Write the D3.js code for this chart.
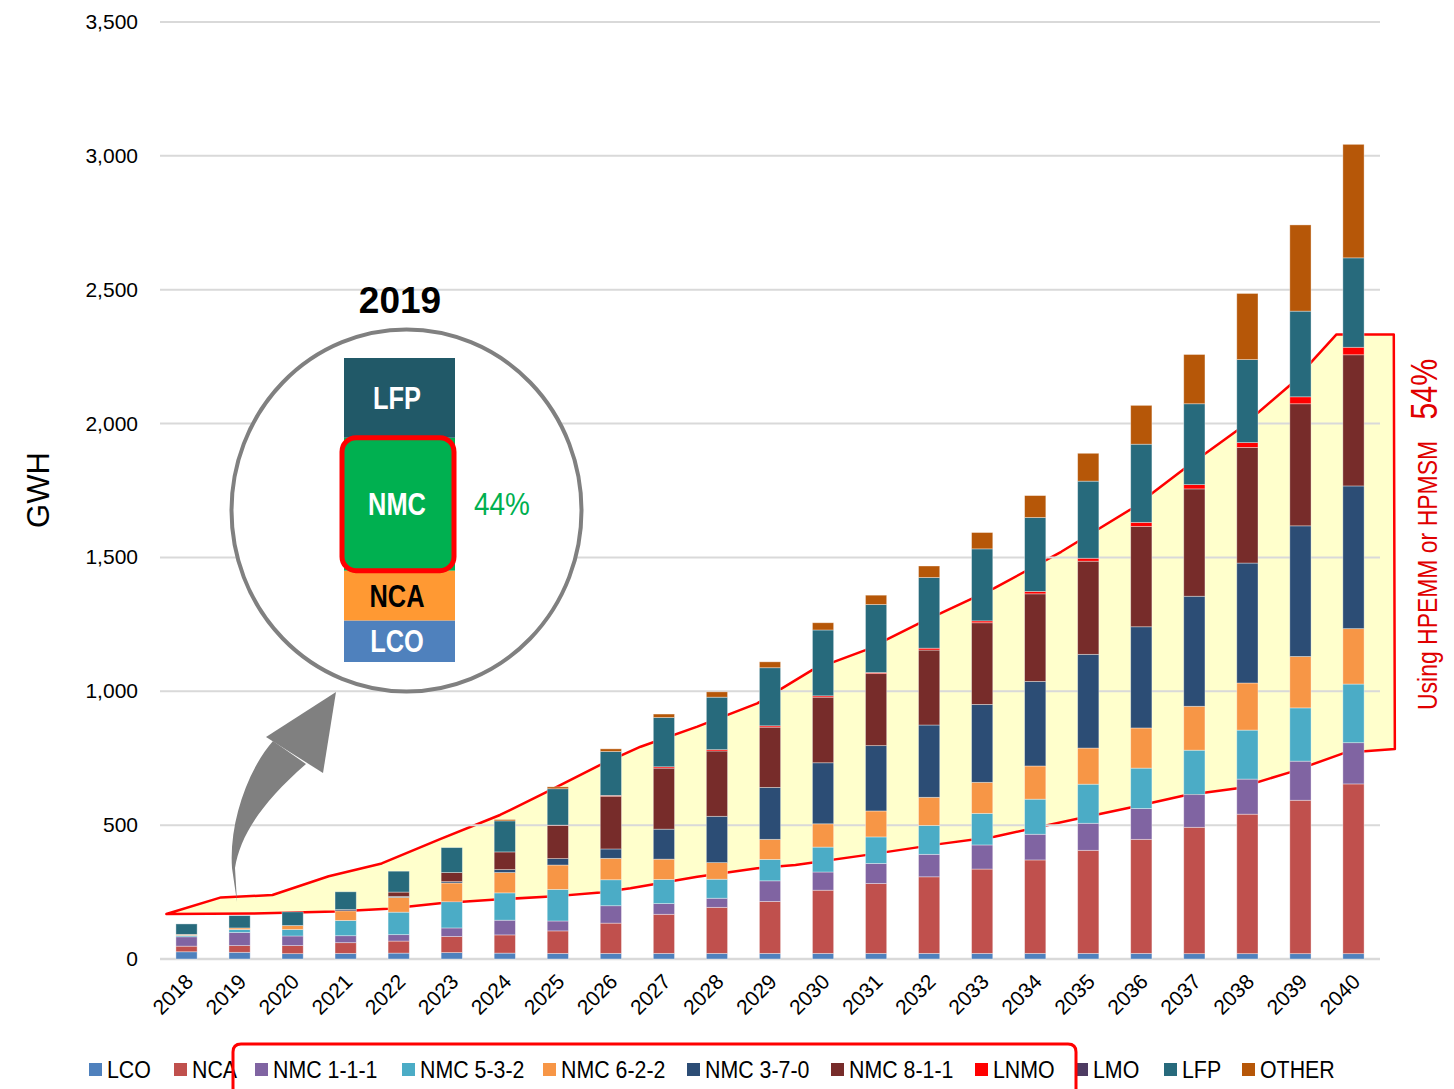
<!DOCTYPE html>
<meta charset="UTF-8">
<style>
body { margin: 0; background: #fff; }
svg text { font-family: "Liberation Sans", Arial, sans-serif; }
</style>
<body>
<script src="https://cdn.jsdelivr.net/npm/d3@7"></script>
<script>
// years on the x axis
var years = ["2018","2019","2020","2021","2022","2023","2024","2025","2026","2027","2028",
             "2029","2030","2031","2032","2033","2034","2035","2036","2037","2038","2039","2040"];

// GWh per chemistry
var LCO    = [27,25,20,21,22,24,22,21,21,21,21,21,21,21,21,21,21,21,21,20,20,20,20];
var NCA    = [21,25,30,40,45,60,68,84,113,146,172,194,236,261,286,315,349,385,426,472,521,573,634];
var NMC111 = [35,49,36,26,24,32,55,37,65,40,34,77,68,75,84,90,96,101,115,122,131,146,154];
var NMC532 = [5,11,24,57,84,98,102,118,97,90,71,80,93,99,108,118,131,146,151,166,183,199,219];
var NMC622 = [4,6,15,36,55,70,76,91,80,76,62,75,87,97,105,116,124,135,150,164,176,192,207];
var NMC370 = [0,0,0,5,4,5,11,24,35,112,173,194,228,244,270,291,316,350,378,411,448,488,533];
var NMC811 = [0,0,0,0,16,34,66,124,197,228,244,225,245,269,280,305,327,348,375,401,432,456,490];
var LNMO   = [0,0,0,0,0,0,0,1,3,5,5,5,5,4,7,7,9,11,15,16,18,26,28];
var LMO    = [0,0,0,0,0,0,0,0,0,0,0,0,0,0,0,0,0,0,0,0,0,0,0];
var LFP    = [39,46,51,66,78,93,116,136,164,184,196,217,246,254,264,269,276,288,292,302,310,320,334];
var OTHER  = [0,0,0,0,0,0,5,7,10,13,20,22,27,35,43,61,82,104,145,184,247,322,424];

var seriesNames = ["LCO","NCA","NMC 1-1-1","NMC 5-3-2","NMC 6-2-2","NMC 3-7-0","NMC 8-1-1","LNMO","LMO","LFP","OTHER"];
var seriesData  = [LCO,NCA,NMC111,NMC532,NMC622,NMC370,NMC811,LNMO,LMO,LFP,OTHER];
var colors = ["#4F81BD","#C0504D","#8064A2","#4BACC6","#F79646","#2C4D75","#772C2A","#FF0000","#4D3B62","#276A7C","#B65708"];

var yTicks = [0,500,1000,1500,2000,2500,3000,3500];

// the yellow "HPEMM / HPMSM" band, as [year index, GWh]
var bandUpper = [[-0.38,168],[0.65,230],[1.62,239],[2.68,309],[3.68,357],[4.78,448],[5.91,538],
                 [6.86,631],[7.8,725],[8.56,793],[9.63,868],[10.76,955],[11.8,1080],[12.8,1154],
                 [13.81,1254],[15.23,1385],[16.49,1521],[17.82,1682],[18.83,1834],[19.82,1976],
                 [20.83,2148],[21.68,2333],[22.76,2333],[22.78,784]];
var bandLower = [[21.83,770],[20.83,699],[19.82,638],[18.83,612],[17.82,567],[16.86,527],
                 [15.23,457],[14.22,430],[12.8,388],[11.48,351],[10.76,339],[9.63,307],[8.37,264],
                 [7.8,248],[6.86,233],[5.91,223],[4.78,208],[3.8,188],[2.8,177],[1.25,170]];

// 2019 close-up: share of each block (GWh), bottom to top
var insetNames  = ["LCO","NCA","NMC","LFP"];
var insetValues = [25,30,80,48];
var insetColors = ["#4F81BD","#FF9933","#00B050","#215968"];
var insetText   = ["#fff","#000","#fff","#fff"];

var W = 1454, H = 1089;
var NARROW = 0.82;   // no Arial Narrow here, so squeeze Liberation Sans
var svg = d3.select("body").append("svg").attr("width", W).attr("height", H);

var x = d3.scaleBand().domain(years).range([160, 1380]).paddingInner(0.6).paddingOuter(0.3);
var y = d3.scaleLinear().domain([0, 3500]).range([959, 22]);
var xi = function(i) { return x(years[0]) + x.bandwidth() / 2 + i * x.step(); };

// band behind everything
var bandPts = bandUpper.concat(bandLower);
svg.append("path")
    .attr("d", d3.line().x(function(d){ return xi(d[0]); }).y(function(d){ return y(d[1]); })(bandPts) + "Z")
    .attr("fill", "#FFFFCC")
    .attr("stroke", "#FF0000")
    .attr("stroke-width", 2.5)
    .attr("stroke-linejoin", "round");

// gridlines + y labels
svg.append("g").selectAll("line").data(yTicks).join("line")
    .attr("x1", 160).attr("x2", 1380)
    .attr("y1", function(d){ return y(d); }).attr("y2", function(d){ return y(d); })
    .attr("stroke", "#D9D9D9").attr("stroke-width", function(d){ return d === 0 ? 2.5 : 2; });

svg.append("g").selectAll("text").data(yTicks).join("text")
    .attr("x", 138).attr("y", function(d){ return y(d) + 7; })
    .attr("text-anchor", "end").attr("font-size", 21).attr("fill", "#000")
    .text(d3.format(","));

// stacked bars
var rows = years.map(function(yr, i) {
  var r = {year: yr};
  seriesNames.forEach(function(n, k){ r[n] = seriesData[k][i]; });
  return r;
});
var stacked = d3.stack().keys(seriesNames)(rows);

svg.append("g").selectAll("g").data(stacked).join("g")
    .attr("fill", function(d, k){ return colors[k]; })
  .selectAll("rect").data(function(d){ return d; }).join("rect")
    .attr("x", function(d){ return x(d.data.year); })
    .attr("width", x.bandwidth())
    .attr("y", function(d){ return y(d[1]); })
    .attr("height", function(d){ return y(d[0]) - y(d[1]); })
    .attr("stroke", "rgba(255,255,255,0.45)")
    .attr("stroke-width", function(d){ return d[1] - d[0] > 0 ? 0.8 : 0; });

// x labels
svg.append("g").selectAll("text").data(years).join("text")
    .attr("transform", function(d){ return "translate(" + (x(d) + x.bandwidth()/2 + 8) + ",983) rotate(-45)"; })
    .attr("text-anchor", "end").attr("font-size", 21).attr("fill", "#000")
    .text(function(d){ return d; });

// axis title
svg.append("text")
    .attr("transform", "translate(49,490) rotate(-90)")
    .attr("text-anchor", "middle").attr("font-size", 31).attr("fill", "#000")
    .text("GWH");

// right side note
var note = svg.append("text")
    .attr("transform", "translate(1437,710) rotate(-90) scale(" + NARROW + ",1)")
    .attr("fill", "#E00000").attr("font-size", 28);
note.append("tspan").text("Using HPEMM or HPMSM");
note.append("tspan").attr("dx", 26).attr("font-size", 37).text("54%");

// arrow from the 2019 bar to the close-up
svg.append("path")
    .attr("d", "M273,741 C246,772 229,825 232,868 L237,902 L235,868 C240,838 258,806 306,764 Z")
    .attr("fill", "#808080");
svg.append("path")
    .attr("d", "M336,692 L266,737 L323,773 Z")
    .attr("fill", "#808080");

// close-up circle
svg.append("ellipse")
    .attr("cx", 406.5).attr("cy", 510.5).attr("rx", 175).attr("ry", 181)
    .attr("fill", "#fff").attr("stroke", "#808080").attr("stroke-width", 4);

svg.append("text")
    .attr("x", 400).attr("y", 313).attr("text-anchor", "middle")
    .attr("font-size", 37).attr("font-weight", "bold").attr("fill", "#000")
    .text("2019");

var iy = d3.scaleLinear().domain([0, d3.sum(insetValues)]).range([662, 358]);
var cum = 0;
insetValues.forEach(function(v, k) {
  var y0 = iy(cum), y1 = iy(cum + v);
  svg.append("rect").attr("x", 344).attr("width", 111)
      .attr("y", y1).attr("height", y0 - y1).attr("fill", insetColors[k]);
  cum += v;
});
// highlight round NMC
var nmcTop = iy(insetValues[0] + insetValues[1] + insetValues[2]);
var nmcBot = iy(insetValues[0] + insetValues[1]);
svg.append("rect").attr("x", 342).attr("width", 112)
    .attr("y", nmcTop).attr("height", nmcBot - nmcTop)
    .attr("rx", 14).attr("fill", "#00B050")
    .attr("stroke", "#FF0000").attr("stroke-width", 5);

cum = 0;
insetValues.forEach(function(v, k) {
  var mid = iy(cum + v / 2);
  svg.append("text")
      .attr("transform", "translate(397," + (mid + 11) + ") scale(" + NARROW + ",1)")
      .attr("text-anchor", "middle")
      .attr("font-size", 31).attr("font-weight", "bold").attr("fill", insetText[k])
      .text(insetNames[k]);
  cum += v;
});
svg.append("text")
    .attr("transform", "translate(502," + ((nmcTop + nmcBot) / 2 + 11) + ") scale(0.9,1)")
    .attr("text-anchor", "middle")
    .attr("font-size", 31).attr("fill", "#00B050")
    .text("44%");

// legend
var legendX = [89, 174, 255, 402, 543, 687, 831, 975, 1075, 1164, 1242];
var lg = svg.append("g").selectAll("g").data(seriesNames).join("g")
    .attr("transform", function(d, k){ return "translate(" + legendX[k] + ",1063)"; });
lg.append("rect").attr("width", 13).attr("height", 13)
    .attr("fill", function(d, k){ return colors[k]; });
lg.append("text")
    .attr("transform", "translate(18,15) scale(0.89,1)")
    .attr("font-size", 24).attr("fill", "#000")
    .text(function(d){ return d; });

// red frame around the NMC / LNMO legend entries
svg.append("path")
    .attr("d", "M233,1095 L233,1052 Q233,1044 241,1044 L1068,1044 Q1076,1044 1076,1052 L1076,1095")
    .attr("fill", "none").attr("stroke", "#FF0000").attr("stroke-width", 3);
</script>
</body>
